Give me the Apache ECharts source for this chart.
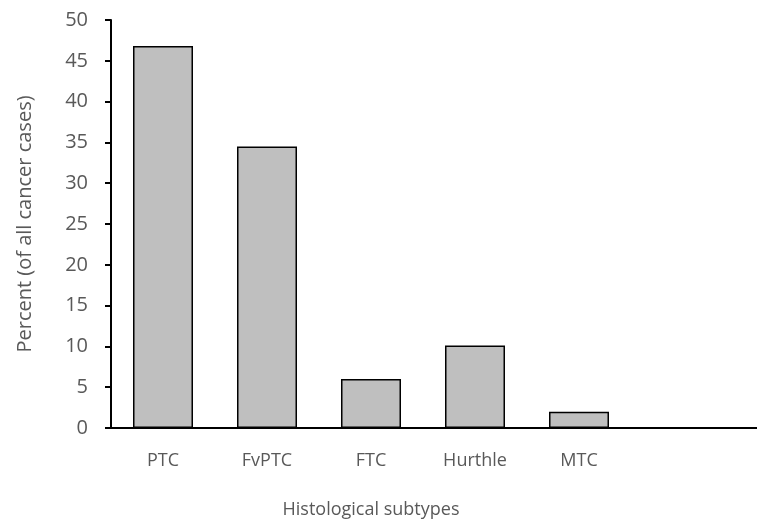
<!DOCTYPE html>
<html><head><meta charset="utf-8">
<script src="https://cdn.jsdelivr.net/npm/echarts@6/dist/echarts.min.js"></script>
<style>html,body{margin:0;padding:0;background:#fff}#c{width:757px;height:520px}</style>
</head><body><div id="c"></div>
<script>
const categories = ['PTC', 'FvPTC', 'FTC', 'Hurthle', 'MTC'];
const percentValues = [46.8, 34.5, 6.0, 10.1, 2.0];
const yTicks = { min: 0, max: 50, interval: 5 };

const chart = echarts.init(document.getElementById('c'));
const font = '"Open Sans", sans-serif';
chart.setOption({
  animation: false,
  grid: { left: 111, right: 126, top: 20, bottom: 92, outerBoundsMode: 'none', containLabel: false },
  xAxis: {
    type: 'category', data: categories,
    axisLine: { lineStyle: { color: '#000', width: 2 } },
    axisTick: { show: false },
    axisLabel: { color: '#595959', fontSize: 18, fontFamily: font, margin: 24 },
    name: 'Histological subtypes', nameLocation: 'middle', nameGap: 73,
    nameTextStyle: { color: '#595959', fontSize: 18, fontFamily: font }
  },
  yAxis: {
    type: 'value', min: yTicks.min, max: yTicks.max, interval: yTicks.interval,
    splitLine: { show: false },
    axisLine: { show: true, lineStyle: { color: '#000', width: 2 } },
    axisTick: { show: true, length: 6, lineStyle: { color: '#000', width: 2 } },
    axisLabel: { color: '#595959', fontSize: 20, fontFamily: font, margin: 23 },
    name: 'Percent (of all cancer cases)', nameLocation: 'middle', nameGap: 76,
    nameTextStyle: { color: '#595959', fontSize: 20, fontFamily: font }
  },
  series: [{
    type: 'bar', data: percentValues, barWidth: 60,
    itemStyle: { color: '#bfbfbf', borderColor: '#000', borderWidth: 1.5 }
  }],
  graphic: [{
    type: 'line', shape: { x1: 630, y1: 428, x2: 757, y2: 428 },
    style: { stroke: '#000', lineWidth: 2 }
  }]
});
</script></body></html>
